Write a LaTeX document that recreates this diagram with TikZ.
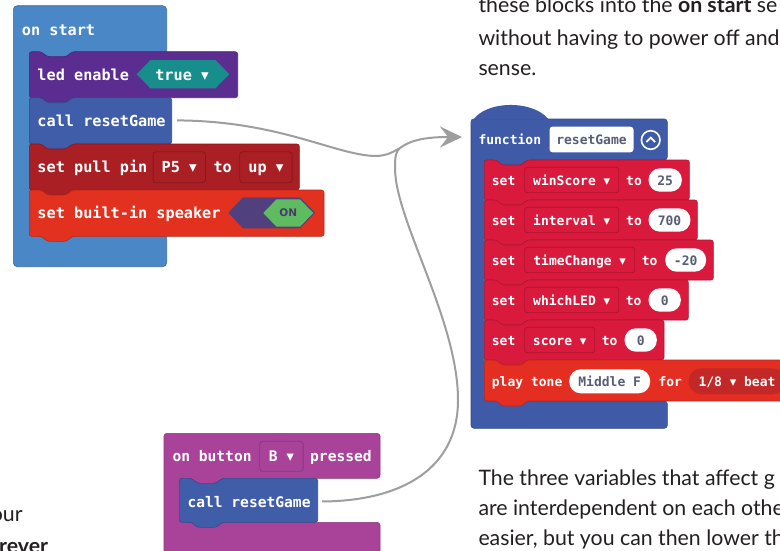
\documentclass[tikz,border=0pt]{standalone}
\usepackage{fontspec}
\setmainfont{Lato}
\setmonofont{DejaVu Sans Mono}
\newfontfamily\symfont{DejaVu Sans}
\usetikzlibrary{arrows.meta}

\definecolor{startblue}{HTML}{4A87C6}
\definecolor{ledpurple}{HTML}{5C2D91}
\definecolor{tealhex}{HTML}{178E8B}
\definecolor{callblue}{HTML}{3F5DA9}
\definecolor{pinred}{HTML}{AA1F24}
\definecolor{speakerred}{HTML}{E2311F}
\definecolor{togglepurple}{HTML}{50417E}
\definecolor{togglegreen}{HTML}{5FBB60}
\definecolor{fnblue}{HTML}{3F5BA8}
\definecolor{varred}{HTML}{DA1A3D}
\definecolor{musicred}{HTML}{E52E22}
\definecolor{pillred}{HTML}{C32828}
\definecolor{inputpurple}{HTML}{A9439A}
\definecolor{ovaltext}{HTML}{575E75}
\definecolor{bodyink}{HTML}{231F20}
\definecolor{linkgray}{HTML}{9E9E9E}

\newcommand{\bigmono}{\ttfamily\bfseries\fontsize{15.2}{18}\selectfont}
\newcommand{\midmono}{\ttfamily\bfseries\fontsize{14.6}{17}\selectfont}
\newcommand{\smallmono}{\ttfamily\bfseries\fontsize{13}{16}\selectfont}
\newcommand{\bodysize}{\fontsize{21.3}{25}\selectfont}
\newcommand{\dd}{{\symfont ▾}}

% stacked block: x, y, width, height, colour
\newcommand{\stackblk}[5]{%
  \filldraw[fill=#5, draw=#5!80!black, line width=.6pt, rounded corners=2.5pt]
    (#1,#2) -- ++(12,0) -- ++(6,5) -- ++(19,0) -- ++(6,-5) -- (#1+#3,#2)
    -- (#1+#3,#2+#4) -- (#1+43,#2+#4) -- ++(-6,5) -- ++(-19,0) -- ++(-6,-5)
    -- (#1,#2+#4) -- cycle;}

% container block: x, arm, top, width, header bottom, foot top, foot bottom, colour
\newcommand{\cblk}[8]{%
  \filldraw[fill=#8, draw=#8!80!black, line width=.6pt, rounded corners=3pt]
    (#1,#3) -- (#1+#4,#3) -- (#1+#4,#5) -- (#1+#2+43,#5) -- ++(-6,5) -- ++(-19,0)
    -- ++(-6,-5) -- (#1+#2,#5) -- (#1+#2,#6) -- (#1+#4,#6) -- (#1+#4,#7)
    -- (#1,#7) -- cycle;}

\begin{document}
\begin{tikzpicture}[x=1pt, y=-1pt,
    lbl/.style={anchor=base west, inner sep=0pt, text=white, font=\bigmono},
    menu/.style={draw=black, draw opacity=.2, line width=.8pt, rounded corners=3pt,
      inner sep=0pt, anchor=west, text=white, font=\bigmono, text height=11pt, text depth=1.4pt},
    menus/.style={menu, font=\smallmono, minimum height=25.6, text height=10pt, text depth=0pt},
    oval/.style={fill=white, rounded corners=11.5pt, inner sep=0pt, anchor=west,
      minimum height=23.4, text=ovaltext, font=\smallmono, text height=10pt, text depth=0pt},
    body/.style={anchor=base west, inner sep=0pt, text=bodyink, font=\bodysize},
    link/.style={draw=linkgray, line width=2pt}
  ]
  \useasboundingbox (0,0) rectangle (780,550);
  \clip (0,0) rectangle (780,550);
  \fill[white] (0,0) rectangle (780,550);

  % on start
  \filldraw[fill=startblue, draw=startblue!80!black, line width=.6pt, rounded corners=4pt]
    (13.3,5.7) rectangle (166.7,266.7);
  \node[lbl] (onstart) at (21.7,35) {on start};

  \stackblk{29.3}{51.7}{208.4}{46}{ledpurple}
  \node[lbl] (led) at (37.3,80) {led enable};
  \fill[tealhex] (136.7,74.2) -- (150.5,60) -- (215.5,60) -- (229.3,74.2) -- (215.5,88.3) -- (150.5,88.3) -- cycle;
  \node[lbl, anchor=base] (ledval) at (182,80) {true \dd};

  \stackblk{29.3}{97.7}{142.4}{46.3}{callblue}
  \node[lbl] (call1) at (37.3,126) {call resetGame};

  \stackblk{29.3}{144}{270}{46}{pinred}
  \node[lbl] (pull) at (37.3,172) {set pull pin};
  \node[menu, minimum width=52.3, minimum height=31] (pin) at (152.7,167.2) {P5 \dd};
  \node[lbl] (pullto) at (213.3,172) {to};
  \node[menu, minimum width=52.4, minimum height=31] (updir) at (239.3,167.2) {up \dd};

  \stackblk{29.3}{190}{294.7}{46.3}{speakerred}
  \node[lbl] (spk) at (37.3,218) {set built-in speaker};
  \fill[togglepurple] (228.3,212.8) -- (243,197.3) -- (300,197.3) -- (315,212.8) -- (300,228.3) -- (243,228.3) -- cycle;
  \fill[togglegreen] (263.3,213) -- (276.5,199.3) -- (300,199.3) -- (313.3,213) -- (300,226.7) -- (276.5,226.7) -- cycle;
  \node[inner sep=0pt, text=togglepurple!90!black, font=\symfont\bfseries\fontsize{10.5}{12}\selectfont] (spkon) at (288.3,213) {ON};

  % function resetGame
  \cblk{471}{13.3}{119}{196.3}{160}{401}{428.3}{fnblue}
  \fill[fnblue] (471,125) .. controls (477,102) and (530,97) .. (549,119.5) -- (471,119.5) -- cycle;
  \node[lbl, font=\smallmono] (fn) at (478.3,144) {function};
  \node[fill=white, rounded corners=3pt, inner sep=0pt, anchor=west, minimum width=84,
    minimum height=25.6, text=ovaltext, font=\smallmono, text height=9pt, text depth=0pt] (fnname) at (549.3,139.5) {resetGame};
  \node[draw=white, circle, line width=1.6pt, minimum size=18.6, inner sep=0pt] (fold) at (650.7,140) {};
  \draw[white, line width=1.8pt] ([shift={(-4.3,2)}]fold.center) -- ([shift={(0,-2.4)}]fold.center) -- ([shift={(4.3,2)}]fold.center);

  \stackblk{484.3}{160}{205}{40}{varred}
  \node[lbl, font=\smallmono] (set1) at (491.7,185) {set};
  \node[menus, minimum width=94] (var1) at (524.3,180) {winScore \dd};
  \node[lbl, font=\smallmono] (to1) at (626,185) {to};
  \node[oval, minimum width=33.4] (val1) at (648.3,180) {25};

  \stackblk{484.3}{200}{213}{40}{varred}
  \node[lbl, font=\smallmono] (set2) at (491.7,225) {set};
  \node[menus, minimum width=94] (var2) at (524.3,220) {interval \dd};
  \node[lbl, font=\smallmono] (to2) at (626,225) {to};
  \node[oval, minimum width=42] (val2) at (648.3,220) {700};

  \stackblk{484.3}{240}{229}{40}{varred}
  \node[lbl, font=\smallmono] (set3) at (491.7,265) {set};
  \node[menus, minimum width=110] (var3) at (524.3,260) {timeChange \dd};
  \node[lbl, font=\smallmono] (to3) at (641.7,265) {to};
  \node[oval, minimum width=41] (val3) at (665,260) {-20};

  \stackblk{484.3}{280}{204}{40}{varred}
  \node[lbl, font=\smallmono] (set4) at (491.7,305) {set};
  \node[menus, minimum width=94] (var4) at (524.3,300) {whichLED \dd};
  \node[lbl, font=\smallmono] (to4) at (625.7,305) {to};
  \node[oval, minimum width=32.4] (val4) at (648.3,300) {0};

  \stackblk{484.3}{320}{179.7}{40}{varred}
  \node[lbl, font=\smallmono] (set5) at (491.7,345) {set};
  \node[menus, minimum width=70] (var5) at (524.3,340) {score \dd};
  \node[lbl, font=\smallmono] (to5) at (601.7,345) {to};
  \node[oval, minimum width=32.4] (val5) at (624.3,340) {0};

  \stackblk{484.3}{360}{330}{41}{musicred}
  \node[lbl, font=\smallmono] (tone) at (491.7,386) {play tone};
  \node[oval, minimum width=81, minimum height=24] (note) at (569,381.3) {Middle F};
  \node[lbl, font=\smallmono] (for) at (658.3,386) {for};
  \node[fill=pillred, rounded corners=13pt, inner xsep=10pt, inner ysep=0pt, anchor=west,
    minimum height=26, text=white, font=\smallmono, text height=9.4pt, text depth=0pt] (beat) at (688.3,381.3) {1/8 \dd{} beat};

  % on button B pressed
  \cblk{164}{15.3}{433.3}{216}{478.3}{522.3}{565}{inputpurple}
  \node[lbl, font=\midmono] (onbtn) at (172.3,461) {on button};
  \node[menu, font=\midmono, minimum width=43.4, minimum height=30, text height=11pt, text depth=1.6pt] (btn) at (259.3,456.3) {B \dd};
  \node[lbl, font=\midmono] (pressed) at (310,461) {pressed};
  \stackblk{179.3}{478.3}{138.4}{44}{callblue}
  \node[lbl, font=\midmono] (call2) at (187.3,507) {call resetGame};

  % page text
  \node[body] (introa) at (478.3,12.5) {these blocks into the \textbf{on start} se};
  \node[body] (introb) at (478.3,45) {without having to power off and};
  \node[body] (introc) at (478.3,75) {sense.};
  \node[body] (notea) at (478.3,485) {The three variables that affect g};
  \node[body] (noteb) at (478.3,515) {are interdependent on each othe};
  \node[body] (notec) at (478.3,545) {easier, but you can then lower th};
  \node[body, anchor=base east] (lefta) at (22.7,521.7) {our};
  \node[body, anchor=base east, font=\bodysize\bfseries] (leftb) at (48.3,553) {rever};

  % links to the function
  \coordinate (merge) at (400,148);
  \coordinate (fnin) at (462,137);
  \draw[link, shorten <=11.3pt] (call1.east) .. controls (280,121) and (335,155) .. (375,156)
    .. controls (388,156) and (394,151) .. (merge);
  \draw[link, shorten <=11.3pt] (call2.east) .. controls (400,501) and (458,470) .. (458,400)
    .. controls (458,320) and (395,220) .. (395,168) .. controls (395,156) and (396,151) .. (merge);
  \draw[link, -{Stealth[length=22pt, width=21pt, inset=8pt]}] (merge) .. controls (408,142) and (420,137) .. (fnin);
\end{tikzpicture}
\end{document}
